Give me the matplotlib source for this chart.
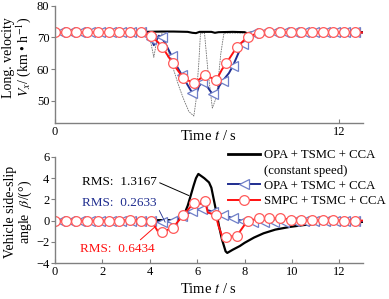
import matplotlib
matplotlib.use("Agg")
import matplotlib.pyplot as plt
from matplotlib.lines import Line2D
import numpy as np

plt.rcParams['font.family'] = ['Liberation Serif', 'DejaVu Serif']
plt.rcParams['mathtext.fontset'] = 'stix'

# ---- data ----
# gray thin reference curve (top panel only)
t_gray = [0, 3.85, 4.0, 4.17, 4.3, 4.52, 4.66, 4.8, 5.01, 5.23, 5.44, 5.65, 5.86, 5.95,
          6.07, 6.14, 6.31, 6.45, 6.64, 6.82, 7.0, 7.13, 13]
v_gray = [71.7, 71.7, 70.0, 63.7, 69.2, 71.2, 69.0, 65.0, 59.7, 54.5, 50.3, 46.6, 45.2, 50.0,
          62.0, 71.3, 71.3, 59.7, 47.7, 51.3, 65.0, 71.3, 71.7]

# OPA+TSMC+CCA (constant speed)
t_blk_v = [0, 3.8, 4.5, 5.0, 5.6, 5.8, 5.95, 6.1, 6.6, 6.75, 6.9, 7.5, 8.0, 8.1, 8.4, 13]
v_blk = [71.6, 71.7, 71.8, 71.8, 71.7, 71.4, 71.3, 71.7, 71.7, 71.4, 71.6, 71.7, 71.6, 71.3, 71.6, 71.6]
t_blk_b = [0, 5.2, 5.42, 5.6, 5.72, 5.85, 5.95, 6.05, 6.3, 6.5, 6.6, 6.7, 6.8, 6.92, 7.05,
           7.2, 7.27, 7.5, 7.8, 8.0, 8.4, 8.8, 9.3, 9.9, 10.5, 11.0, 12.0, 13.0]
b_blk = [0, 0.05, 0.4, 1.4, 2.3, 3.3, 4.0, 4.4, 4.0, 3.6, 3.1, 2.0, 0.9, -0.5, -1.8,
         -2.9, -3.05, -2.75, -2.4, -2.1, -1.6, -1.2, -0.85, -0.6, -0.42, -0.32, -0.2, -0.12]

# OPA+TSMC+CCA
t_blue = [0, 0.2, 0.63, 1.06, 1.49, 1.92, 2.35, 2.78, 3.21, 3.64,
          3.95, 4.07, 4.17, 4.38, 4.5, 4.73, 4.93, 5.15, 5.36, 5.72, 5.79, 5.93,
          6.07, 6.22, 6.35, 6.57, 6.65, 6.78, 6.92, 7.08, 7.34, 7.51, 7.77, 7.94,
          8.19, 8.37, 8.8, 9.23, 9.66, 10.09, 10.52, 10.95, 11.38, 11.81, 12.24, 12.67, 13.0]
v_blue = [71.5, 71.5, 71.5, 71.5, 71.5, 71.5, 71.5, 71.5, 71.5, 71.5,
          71.4, 69.5, 67.5, 70.5, 70.0, 67.0, 64.0, 60.8, 58.0, 53.4, 52.6, 51.3,
          54.5, 56.0, 55.3, 52.9, 52.2, 51.3, 54.5, 56.3, 58.7, 61.0, 65.5, 68.0,
          70.7, 71.4, 71.5, 71.5, 71.5, 71.5, 71.5, 71.5, 71.5, 71.5, 71.5, 71.5, 71.5]
b_blue = [0, 0, 0, 0, 0, 0, 0, 0, 0, 0,
          0, -0.05, -0.1, -0.15, -0.18, -0.15, -0.03, 0.15, 0.4, 0.8, 0.88, 0.96,
          1.04, 1.06, 1.04, 0.9, 0.83, 0.75, 0.66, 0.55, 0.35, 0.22, 0.05, -0.03,
          -0.1, -0.13, -0.12, -0.1, -0.1, -0.08, -0.07, -0.06, -0.05, -0.05, -0.05, -0.05, -0.05]
mark_blue = [0.2, 0.63, 1.06, 1.49, 1.92, 2.35, 2.78, 3.21, 3.64, 4.07, 4.5, 4.93, 5.36,
             5.79, 6.22, 6.65, 7.08, 7.51, 7.94, 8.37, 8.8, 9.23, 9.66, 10.09, 10.52,
             10.95, 11.38, 11.81, 12.24, 12.67]

# SMPC+TSMC+CCA
t_red = [0, 0.45, 0.9, 1.36, 1.81, 2.26, 2.71, 3.16, 3.62,
         4.07, 4.2, 4.35, 4.52, 4.97, 5.42, 5.88, 6.1, 6.33, 6.45, 6.78, 6.9,
         7.05, 7.23, 7.68, 8.0, 8.14, 8.59, 9.04, 9.49, 9.94, 10.4, 10.85, 11.3,
         11.75, 12.2, 12.66, 13.0]
v_red = [71.5, 71.5, 71.5, 71.5, 71.5, 71.5, 71.5, 71.5, 71.5,
         70.4, 69.5, 68.4, 67.0, 61.8, 57.1, 55.5, 56.8, 58.1, 57.7, 56.6, 57.8,
         59.9, 61.8, 67.0, 69.2, 70.2, 71.3, 71.5, 71.5, 71.5, 71.5, 71.5, 71.5,
         71.5, 71.5, 71.5, 71.5]
b_red = [0, 0, 0, 0, 0, 0, 0, 0.05, 0,
         0.0, -0.5, -1.05, -1.05, -0.7, 0.55, 1.7, 1.55, 1.85, 0.75, 0.55, -0.5,
         -1.45, -1.55, -1.42, -0.4, -0.05, 0.2, 0.25, 0.2, 0.1, 0.05, 0.03, 0.02,
         0.02, 0.0, 0.0, 0.0]
mark_red = [0, 0.45, 0.9, 1.36, 1.81, 2.26, 2.71, 3.16, 3.62, 4.07, 4.52, 4.97, 5.42,
            5.88, 6.33, 6.78, 7.23, 7.68, 8.14, 8.59, 9.04, 9.49, 9.94, 10.4, 10.85,
            11.3, 11.75, 12.2, 12.66]

labels = ['OPA + TSMC + CCA', '(constant speed)', 'OPA + TSMC + CCA', 'SMPC + TSMC + CCA']
rms_text = ['RMS:  1.3167', 'RMS:  0.2633', 'RMS:  0.6434']

# ---- style ----
c_blk = 'black'
c_blue = '#1f2d8f'
c_blue_m = '#6f7fc8'
c_red = '#ff1010'
c_red_m = '#ff5a5a'
c_spine = '#808080'

idx_blue = list(np.where(np.isin(t_blue, mark_blue))[0])
idx_red = list(np.where(np.isin(t_red, mark_red))[0])

fig = plt.figure(figsize=(3.89, 2.99), dpi=100)
ax1 = fig.add_axes([0.1414, 0.5886, 0.7918, 0.393])
ax2 = fig.add_axes([0.1414, 0.1204, 0.7918, 0.3546])

blue_kw = dict(color=c_blue, lw=1.4, marker='<', ms=7, mfc='white', mec=c_blue_m, mew=0.9)
red_kw = dict(color=c_red, lw=1.4, marker='o', ms=7, mfc='white', mec=c_red_m, mew=0.9)

ax1.plot(t_gray, v_gray, color='0.45', lw=0.6, ls=(0, (2, 1)))
ax1.plot(t_blk_v, v_blk, color=c_blk, lw=1.5)
ax1.plot(t_blue, v_blue, markevery=idx_blue, **blue_kw)
ax1.plot(t_red, v_red, markevery=idx_red, **red_kw)

ax2.plot(t_blk_b, b_blk, color=c_blk, lw=1.6)
ax2.plot(t_blue, b_blue, markevery=idx_blue, **blue_kw)
ax2.plot(t_red, b_red, markevery=idx_red, **red_kw)

for ax in (ax1, ax2):
    ax.set_xlim(0, 13)
    for s in ('top', 'right'):
        ax.spines[s].set_visible(False)
    for s in ('left', 'bottom'):
        ax.spines[s].set_color(c_spine)
        ax.spines[s].set_linewidth(1.0)
    ax.tick_params(axis='x', direction='in', length=3, color=c_spine, labelsize=9, pad=2)
    ax.tick_params(axis='y', direction='out', length=3, color=c_spine, labelsize=9, pad=1)

ax1.set_ylim(43, 80)
ax1.set_yticks([50, 60, 70, 80])
ax1.set_xticks([0, 12])
ax1.set_xlabel('Time $t$ / s', fontsize=10.5)
ax1.xaxis.set_label_coords(0.5, -0.05)
ax1.set_ylabel('Long. velocity\n$V_x$/ (km • h$^{-1}$)', fontsize=10, linespacing=1.0)
ax1.yaxis.set_label_coords(-0.07, 0.56)

ax2.set_ylim(-4, 6)
ax2.set_yticks([-4, -2, 0, 2, 4, 6])
ax2.set_xticks([0, 2, 4, 6, 8, 10, 12])
ax2.set_xlabel('Time $t$ / s', fontsize=10.5)
ax2.xaxis.set_label_coords(0.5, -0.18)
ax2.set_ylabel('Vehicle side-slip\nangle  $\\beta$/(°)', fontsize=10, linespacing=1.0)
ax2.yaxis.set_label_coords(-0.068, 0.48)

ax2.annotate(rms_text[0], xy=(5.65, 2.36), xytext=(1.14, 3.68), fontsize=9.5, color=c_blk,
             va='center', ha='left',
             arrowprops=dict(arrowstyle='-', color=c_blk, lw=0.7, relpos=(1, 0.5),
                             shrinkA=0, shrinkB=0))
ax2.annotate(rms_text[1], xy=(4.65, -0.15), xytext=(1.14, 1.7), fontsize=9.5, color=c_blue,
             va='center', ha='left',
             arrowprops=dict(arrowstyle='-', color=c_blue, lw=0.6, relpos=(1, 0.3),
                             shrinkA=0, shrinkB=0))
ax2.annotate(rms_text[2], xy=(4.24, -0.55), xytext=(1.05, -2.64), fontsize=9.5, color=c_red,
             va='center', ha='left',
             arrowprops=dict(arrowstyle='-', color=c_red, lw=0.7, relpos=(0.75, 0.9),
                             shrinkA=0, shrinkB=0))

handles = [Line2D([], [], color=c_blk, lw=2),
           Line2D([], [], color='none'),
           Line2D([], [], **blue_kw),
           Line2D([], [], **red_kw)]
fig.legend(handles, labels, loc='upper left', bbox_to_anchor=(0.586, 0.5), frameon=False,
           fontsize=9.2, handlelength=2.5, handletextpad=0.3, labelspacing=0.25,
           borderpad=0, borderaxespad=0, numpoints=1)

fig.savefig('out.png', dpi=100)
